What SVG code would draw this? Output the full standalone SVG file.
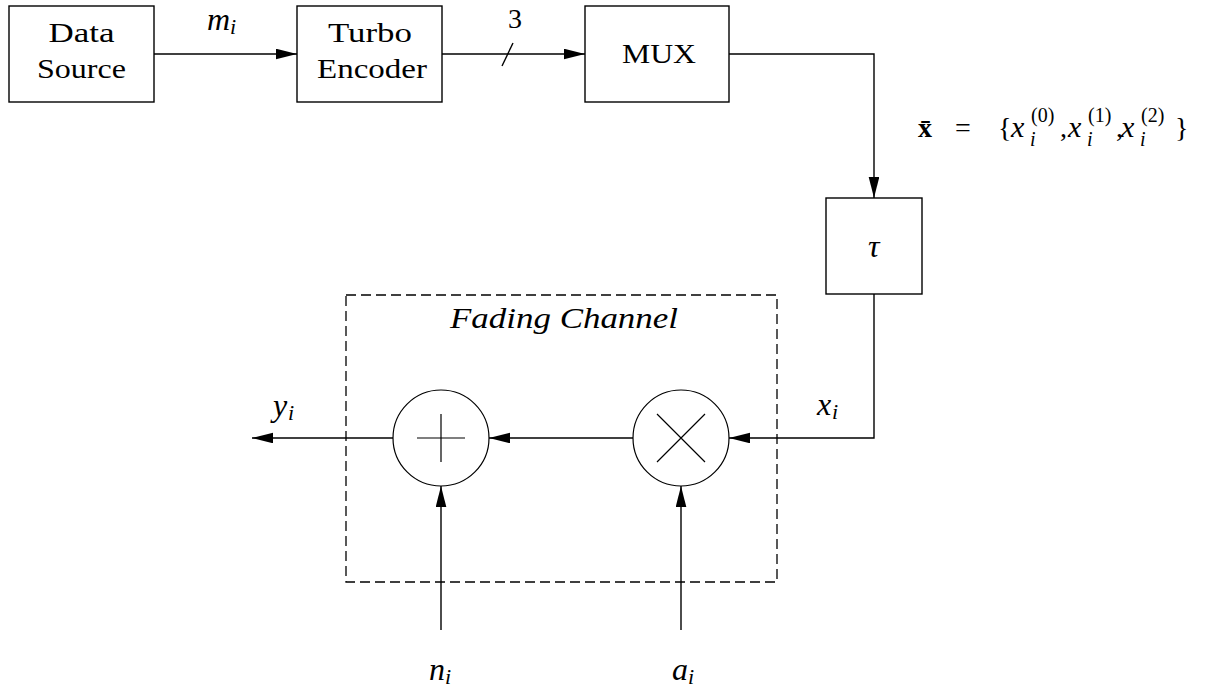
<svg xmlns="http://www.w3.org/2000/svg" width="1207" height="689" viewBox="0 0 1207 689" font-family="Liberation Serif, DejaVu Serif, serif">
<style>
  .box{fill:none;stroke:#000;stroke-width:1.4}
  .op{fill:none;stroke:#000;stroke-width:1.2}
  .wire{fill:none;stroke:#000;stroke-width:1.4}
  .dash{fill:none;stroke:#000;stroke-width:1.3;stroke-dasharray:10 5}
  text{fill:#000}
  .rm{font-size:28px}
  .it{font-size:32px;font-style:italic}
  .sub{font-size:22px;font-style:italic}
  .eq{font-size:28px}
  .eqi{font-size:30px;font-style:italic}
  .sup{font-size:20px}
  .esub{font-size:20px;font-style:italic}
</style>
<defs>
  <marker id="arr" markerUnits="userSpaceOnUse" markerWidth="22" markerHeight="12" refX="21" refY="5.3" orient="auto">
    <path d="M0,0 L21,5.3 L0,10.6 z" fill="#000"/>
  </marker>
</defs>
<rect width="1207" height="689" fill="#fff"/>

<g id="connectors">
  <path class="wire" d="M154,54 H297" marker-end="url(#arr)"/>
  <path class="wire" d="M442,54 H585" marker-end="url(#arr)"/>
  <path class="wire" d="M502,66 L513,43"/>
  <path class="wire" d="M729,54 H874 V198" marker-end="url(#arr)"/>
  <path class="wire" d="M874,294 V438 H729" marker-end="url(#arr)"/>
  <path class="wire" d="M633,438 H489" marker-end="url(#arr)"/>
  <path class="wire" d="M393,438 H252" marker-end="url(#arr)"/>
  <path class="wire" d="M441,630 V486" marker-end="url(#arr)"/>
  <path class="wire" d="M681,630 V486" marker-end="url(#arr)"/>
</g>

<g id="labels" font-family="Liberation Serif, DejaVu Serif, serif">
  <text class="it" x="207" y="30">m</text><text class="sub" x="230" y="34">i</text>
  <text class="rm" x="508" y="28">3</text>
  <text class="eq" x="918" y="137" font-weight="bold">x̄</text>
  <text class="eq" x="955" y="137">=</text>
  <text class="eq" x="998" y="137">{</text>
  <text class="eqi" x="1011" y="137">x</text><text class="sup" x="1031" y="122">(0)</text><text class="esub" x="1030" y="146">i</text>
  <text class="eq" x="1060" y="137">,</text>
  <text class="eqi" x="1068" y="137">x</text><text class="sup" x="1088" y="122">(1)</text><text class="esub" x="1087" y="146">i</text>
  <text class="eq" x="1116" y="137">,</text>
  <text class="eqi" x="1121" y="137">x</text><text class="sup" x="1141" y="122">(2)</text><text class="esub" x="1140" y="146">i</text>
  <text class="eq" x="1175" y="137">}</text>
  <text class="it" x="817" y="415">x</text><text class="sub" x="832" y="419">i</text>
  <text class="it" x="273" y="416">y</text><text class="sub" x="288" y="420">i</text>
  <text class="it" x="429" y="680">n</text><text class="sub" x="445" y="684">i</text>
  <text class="it" x="672" y="680">a</text><text class="sub" x="688" y="684">i</text>
</g>

<g id="data-source" font-family="Liberation Serif, DejaVu Serif, serif">
  <rect class="box" x="9" y="6" width="145" height="96"/>
  <text class="rm" x="81.5" y="42" text-anchor="middle" textLength="66" lengthAdjust="spacingAndGlyphs">Data</text>
  <text class="rm" x="81.5" y="78" text-anchor="middle" textLength="89" lengthAdjust="spacingAndGlyphs">Source</text>
</g>
<g id="turbo-encoder" font-family="Liberation Serif, DejaVu Serif, serif">
  <rect class="box" x="297" y="6" width="145" height="96"/>
  <text class="rm" x="370" y="42" text-anchor="middle" textLength="84" lengthAdjust="spacingAndGlyphs">Turbo</text>
  <text class="rm" x="372" y="78" text-anchor="middle" textLength="110" lengthAdjust="spacingAndGlyphs">Encoder</text>
</g>
<g id="mux" font-family="Liberation Serif, DejaVu Serif, serif">
  <rect class="box" x="585" y="6" width="144" height="96"/>
  <text class="rm" x="659" y="63" text-anchor="middle" textLength="74" lengthAdjust="spacingAndGlyphs">MUX</text>
</g>
<g id="interleaver" font-family="Liberation Serif, DejaVu Serif, serif">
  <rect class="box" x="826" y="198" width="96" height="96"/>
  <text class="it" x="868" y="257">τ</text>
</g>
<g id="fading-channel" font-family="Liberation Serif, DejaVu Serif, serif">
  <rect class="dash" x="346" y="295" width="431" height="287"/>
  <text class="it" x="450" y="328" textLength="228" lengthAdjust="spacingAndGlyphs" style="font-size:29px">Fading Channel</text>
</g>
<g id="adder">
  <circle class="op" cx="441" cy="438" r="48"/>
  <path class="op" d="M417,438 H465 M441,414 V462"/>
</g>
<g id="multiplier">
  <circle class="op" cx="681" cy="438" r="48"/>
  <path class="op" d="M657,414 L705,462 M705,414 L657,462"/>
</g>
</svg>
